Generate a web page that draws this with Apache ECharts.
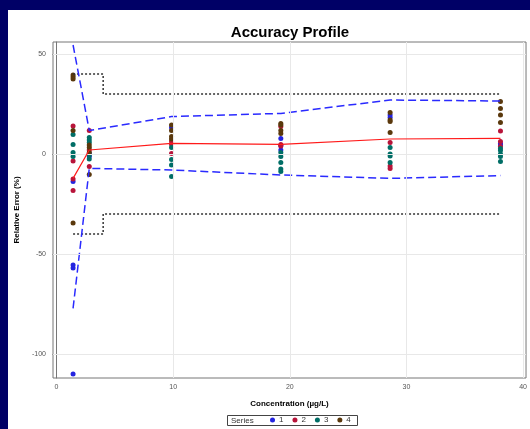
<!DOCTYPE html>
<html>
<head>
<meta charset="utf-8">
<script src="https://cdn.jsdelivr.net/npm/echarts@6/dist/echarts.min.js"></script>
<style>
html,body{margin:0;padding:0;background:#000066;}
#chart{width:530px;height:429px;}
</style>
</head>
<body>
<div id="chart"></div>
<script>
// ---- data ----
const conc = [1.42, 2.81, 9.86, 19.23, 28.6, 38.06];
const meanBias = [-12.2, 2.0, 5.3, 4.8, 7.5, 7.8];
const upperTol = [54.5, 11.7, 18.7, 20.3, 27.0, 26.5];
const lowerTol = [-77.2, -7.2, -8.0, -10.5, -12.2, -10.8];
const limitX = [1.42, 4.0, 4.0, 38.06];
const upperLim = [40, 40, 30, 30];
const lowerLim = [-40, -40, -30, -30];
const series1 = [[-13.8, -55.5, -57, -110], [-1.3, 0.3], [13.2], [7.8, 4.2, 2], [19.5, 18.3], [5.3, 4.5]];
const series2 = [[14, -3.5, -12.5, -18.3], [11.7, 2, -6.3], [6.2, 4.8, 0.3], [13.7, 4.8, 4], [5.8, -6, -7.2], [11.5, 6.2, 3.7]];
const series3 = [[9.8, 4.8, 0.8, -1.3], [8.3, 7, 5.8, -0.5, -2.5], [3.2, -2.7, -5.5, -11.3], [0.7, -1.3, -4.2, -7.5, -8.8], [3.3, 0, -1, -4.3], [2.8, 1.7, 0, -1.3, -3.8]];
const series4 = [[39.5, 38.5, 37.5, 11.7, -34.5], [4.5, 3.3, 0.8, -10.2], [14.5, 11.7, 8.7, 7.5], [15.3, 14.5, 11.7, 10.3], [20.7, 17, 16.2, 10.8], [26.2, 22.8, 19.5, 15.8]];
const seriesNames = ['1', '2', '3', '4'];
const xTicks = [0, 10, 20, 30, 40];
const yTicks = [-100, -50, 0, 50];
const xGrid = [10, 20, 30, 40];
const yGrid = [-100, -50, 0, 50];

// ---- build ----
const FONT = '"Liberation Sans", Arial, sans-serif';
function pairs(vals) {
  const out = [];
  vals.forEach((arr, i) => arr.forEach(v => out.push([conc[i], v])));
  return out;
}
function zip(xs, ys) { return xs.map((x, i) => [x, ys[i]]); }
const colors = ['#2424e0', '#b8143a', '#006e66', '#5a380c'];
const groups = [series1, series2, series3, series4];

const scatterSeries = groups.map((g, i) => ({
  name: seriesNames[i], type: 'scatter', data: pairs(g),
  symbol: 'circle', symbolSize: 5, itemStyle: { color: colors[i], opacity: 1 }, z: 3
}));

const chart = echarts.init(document.getElementById('chart'), null, { renderer: 'canvas' });
chart.setOption({
  backgroundColor: '#000066',
  animation: false,
  textStyle: { fontFamily: FONT },
  graphic: { elements: [
    { type: 'rect', shape: { x: 8, y: 10, width: 522, height: 419 }, style: { fill: '#ffffff' }, z: -100, silent: true },
    { type: 'rect', shape: { x: 227.5, y: 415.5, width: 130, height: 10 }, style: { fill: 'none', stroke: '#444', lineWidth: 1 }, z: 10, silent: true },
    { type: 'text', x: 231, y: 420.5, style: { text: 'Series', font: '8px ' + FONT, fill: '#333', textVerticalAlign: 'middle', verticalAlign: 'middle' }, z: 10, silent: true }
  ]},
  title: {
    text: 'Accuracy Profile', left: 285, top: 20, textAlign: 'center',
    textStyle: { fontFamily: FONT, fontSize: 15, fontWeight: 'bold', color: '#000' }
  },
  legend: {
    data: seriesNames, left: 270, top: 416, padding: 0,
    itemWidth: 5, itemHeight: 5, itemGap: 9, icon: 'circle',
    textStyle: { fontSize: 8, color: '#333', fontFamily: FONT, padding: [0, 0, 0, -1] }
  },
  grid: { left: 53, top: 42, right: 1, bottom: 51, show: true, borderColor: '#777', borderWidth: 1, backgroundColor: 'transparent' },
  xAxis: {
    type: 'value', min: -0.3, max: 40.25,
    name: 'Concentration (µg/L)', nameLocation: 'middle', nameGap: 22,
    nameTextStyle: { fontSize: 8, fontWeight: 'bold', color: '#000', fontFamily: FONT },
    axisLine: { show: true, lineStyle: { color: '#777' } },
    axisTick: { show: true, length: 4, customValues: xTicks, lineStyle: { color: '#777' } },
    axisLabel: { customValues: xTicks, fontSize: 7, color: '#555', margin: 6, fontFamily: FONT },
    splitLine: { show: false }
  },
  yAxis: {
    type: 'value', min: -112, max: 56,
    name: 'Relative Error (%)', nameLocation: 'middle', nameGap: 29, nameRotate: 90,
    nameTextStyle: { fontSize: 8, fontWeight: 'bold', color: '#000', fontFamily: FONT },
    axisLine: { show: true, lineStyle: { color: '#777' } },
    axisTick: { show: true, length: 4, customValues: yTicks, lineStyle: { color: '#777' } },
    axisLabel: { customValues: yTicks, fontSize: 7, color: '#555', margin: 7, fontFamily: FONT },
    splitLine: { show: false }
  },
  series: [
    {
      name: 'grid', type: 'line', data: [], z: 1, silent: true,
      markLine: {
        silent: true, symbol: ['none', 'none'], label: { show: false },
        lineStyle: { color: '#e8e8e8', type: 'solid', width: 1 },
        data: xGrid.map(v => ({ xAxis: v })).concat(yGrid.map(v => ({ yAxis: v })))
      }
    },
    ...scatterSeries,
    { name: 'upperLim', type: 'line', data: zip(limitX, upperLim), symbol: 'none', z: 4,
      lineStyle: { color: '#333', width: 1.5, type: [2, 2] } },
    { name: 'lowerLim', type: 'line', data: zip(limitX, lowerLim), symbol: 'none', z: 4,
      lineStyle: { color: '#333', width: 1.5, type: [2, 2] } },
    { name: 'upperTol', type: 'line', data: zip(conc, upperTol), symbol: 'none', z: 4,
      lineStyle: { color: '#2a2aff', width: 1.5, type: [8, 4] } },
    { name: 'lowerTol', type: 'line', data: zip(conc, lowerTol), symbol: 'none', z: 4,
      lineStyle: { color: '#2a2aff', width: 1.5, type: [8, 4] } },
    { name: 'mean', type: 'line', data: zip(conc, meanBias), symbol: 'none', z: 5,
      lineStyle: { color: '#ff1a1a', width: 1.2, type: 'solid' } }
  ]
});
</script>
</body>
</html>
